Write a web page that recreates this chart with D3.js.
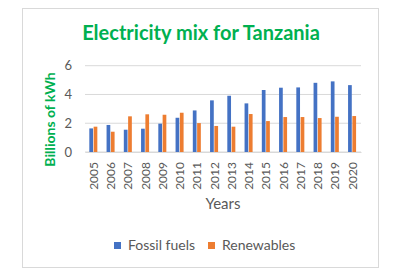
<!DOCTYPE html>
<html>
<head>
<meta charset="utf-8">
<script src="https://cdn.jsdelivr.net/npm/d3@7"></script>
<style>
  body { margin: 0; background: #fff; }
  text { font-family: Lato, "Open Sans", sans-serif; }
</style>
</head>
<body>
<div id="chart"></div>
<script>
// data
var years = ["2005","2006","2007","2008","2009","2010","2011","2012","2013","2014","2015","2016","2017","2018","2019","2020"];
var fossil = [1.64, 1.88, 1.55, 1.62, 1.97, 2.38, 2.89, 3.59, 3.91, 3.38, 4.31, 4.47, 4.49, 4.81, 4.91, 4.65];
var renewables = [1.76, 1.41, 2.48, 2.62, 2.59, 2.73, 2.01, 1.81, 1.76, 2.64, 2.15, 2.43, 2.43, 2.36, 2.45, 2.50];
var seriesNames = ["Fossil fuels", "Renewables"];
var yTicks = [0, 2, 4, 6];

var colors = {"Fossil fuels": "#4472C4", "Renewables": "#ED7D31"};

var W = 404, H = 279;
var margin = {top: 65.7, right: 43, bottom: 127, left: 85};
var width = W - margin.left - margin.right,
    height = H - margin.top - margin.bottom;

var svg = d3.select("#chart").append("svg")
    .attr("width", W)
    .attr("height", H);

// chart frame
svg.append("rect")
    .attr("x", 22.5).attr("y", 8.5)
    .attr("width", 356).attr("height", 259)
    .attr("fill", "#fff")
    .attr("stroke", "#d9d9d9");

var g = svg.append("g")
    .attr("transform", "translate(" + margin.left + "," + margin.top + ")");

var x0 = d3.scaleBand().domain(years).range([0, width]).padding(0);
var x1 = d3.scaleBand().domain(seriesNames)
    .range([x0.bandwidth() * 0.25, x0.bandwidth() * 0.75]).padding(0);
var y = d3.scaleLinear().domain([0, 6]).range([height, 0]);

// gridlines
g.append("g")
  .selectAll("line")
  .data(yTicks)
  .enter().append("line")
    .attr("x1", 0).attr("x2", width)
    .attr("y1", function(d) { return y(d); })
    .attr("y2", function(d) { return y(d); })
    .attr("stroke", "#d9d9d9")
    .attr("stroke-width", 1);

// y axis labels
var yAxis = d3.axisLeft(y).tickValues(yTicks).tickFormat(d3.format("d")).tickSize(0).tickPadding(13);
g.append("g").call(yAxis)
  .call(function(s) { s.select(".domain").remove(); })
  .selectAll("text")
    .attr("fill", "#595959")
    .style("font-size", "13px");

// bars
var rows = years.map(function(yr, i) {
  return {year: yr, values: [
    {name: "Fossil fuels", value: fossil[i]},
    {name: "Renewables", value: renewables[i]}
  ]};
});

g.append("g")
  .selectAll("g")
  .data(rows)
  .enter().append("g")
    .attr("transform", function(d) { return "translate(" + x0(d.year) + ",0)"; })
  .selectAll("rect")
  .data(function(d) { return d.values; })
  .enter().append("rect")
    .attr("x", function(d) { return x1(d.name); })
    .attr("width", x1.bandwidth() - 0.6)
    .attr("y", function(d) { return y(d.value); })
    .attr("height", function(d) { return height - y(d.value); })
    .attr("fill", function(d) { return colors[d.name]; });

// x axis
var xAxis = d3.axisBottom(x0).tickSize(0);
var xg = g.append("g")
    .attr("transform", "translate(0," + height + ")")
    .call(xAxis);
xg.select(".domain").attr("stroke", "#d9d9d9");
xg.selectAll("text")
    .attr("fill", "#595959")
    .style("font-size", "12px")
    .attr("transform", "rotate(-90)")
    .attr("text-anchor", "end")
    .attr("x", -10)
    .attr("y", 0)
    .attr("dy", "0.35em");

// title
svg.append("text")
    .attr("x", 201).attr("y", 40)
    .attr("text-anchor", "middle")
    .attr("fill", "#00B050")
    .style("font-size", "20px")
    .style("font-weight", "bold")
    .text("Electricity mix for Tanzania");

// y axis title
svg.append("text")
    .attr("transform", "translate(55,119.5) rotate(-90)")
    .attr("text-anchor", "middle")
    .attr("fill", "#00B050")
    .style("font-size", "14px")
    .style("font-weight", "bold")
    .text("Billions of kWh");

// x axis title
svg.append("text")
    .attr("x", 223).attr("y", 209)
    .attr("text-anchor", "middle")
    .attr("fill", "#595959")
    .style("font-size", "15px")
    .text("Years");

// legend
var legendX = [114, 208];
var legend = svg.append("g")
  .selectAll("g")
  .data(seriesNames)
  .enter().append("g")
    .attr("transform", function(d, i) { return "translate(" + legendX[i] + ",242)"; });
legend.append("rect")
    .attr("width", 7).attr("height", 7)
    .attr("fill", function(d) { return colors[d]; });
legend.append("text")
    .attr("x", 14).attr("y", 8)
    .attr("fill", "#595959")
    .style("font-size", "14px")
    .text(function(d) { return d; });
</script>
</body>
</html>
